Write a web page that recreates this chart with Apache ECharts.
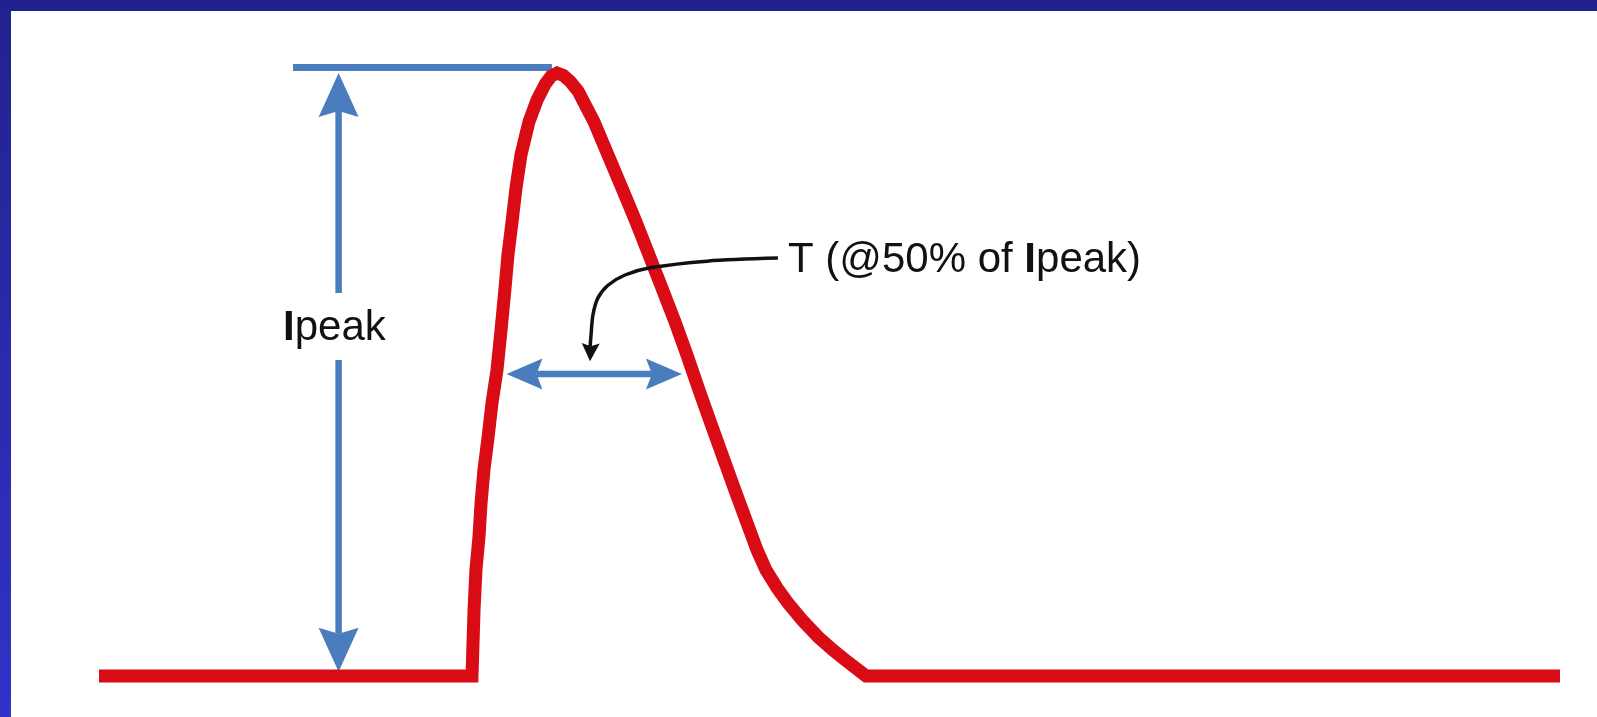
<!DOCTYPE html>
<html><head><meta charset="utf-8">
<script src="https://cdn.jsdelivr.net/npm/echarts@6/dist/echarts.min.js"></script>
<style>html,body{margin:0;padding:0;background:#fff;overflow:hidden}#c{width:1597px;height:717px}</style>
</head><body><div id="c"></div>
<script>
// ---- data (time in arbitrary units, current as fraction of Ipeak) ----
const pulseTime = [0, 25.53, 25.67, 25.80, 26.01, 26.15, 26.35, 26.63, 26.90, 27.24, 27.52, 27.79, 27.99, 28.27, 28.54, 28.88, 29.43, 29.98, 30.55, 30.95, 31.35, 31.78, 32.25, 32.79, 33.88, 34.84, 35.80, 36.76, 37.65, 38.54, 39.43, 40.25, 41.07, 41.89, 42.71, 43.53, 44.35, 45.04, 45.65, 46.41, 47.16, 48.12, 49.21, 50.24, 51.06, 52.50, 100];
const pulseCurrent = [0, 0, 0.109, 0.176, 0.231, 0.287, 0.342, 0.396, 0.453, 0.507, 0.574, 0.643, 0.698, 0.753, 0.809, 0.864, 0.919, 0.955, 0.982, 0.995, 1.0, 0.996, 0.986, 0.970, 0.919, 0.864, 0.809, 0.753, 0.698, 0.643, 0.587, 0.532, 0.474, 0.418, 0.363, 0.308, 0.254, 0.209, 0.176, 0.146, 0.121, 0.093, 0.065, 0.043, 0.027, 0, 0];

const peakMarkerTime = [13.28, 31.0];
const peakMarkerLevel = 1.009;

const ipeakArrowTime = 16.40;
const ipeakArrowUp = [0.635, 1.0];     // from gap to peak
const ipeakArrowDown = [0.524, 0.007]; // from gap to baseline

const widthArrowLevel = 0.501;
const widthArrowTime = [27.89, 39.90];

const leaderTime = [46.47, 41.62, 37.71, 36.00, 34.84, 34.15, 33.81, 33.68, 33.61, 33.61];
const leaderLevel = [0.693, 0.688, 0.677, 0.665, 0.648, 0.627, 0.599, 0.566, 0.544, 0.522];

const ipeakLabel = ['I', 'peak'];
const widthLabel = ['T (@50% of ', 'I', 'peak)'];

// ---- styles ----
const RED = '#d90c15';
const BLUE = '#4a7dbd';
const INK = '#111111';

function headParts(tip, from, L, W, notch) {
  const dx = tip[0] - from[0], dy = tip[1] - from[1];
  const len = Math.hypot(dx, dy) || 1;
  const ux = dx / len, uy = dy / len, nx = -uy, ny = ux;
  const bx = tip[0] - ux * L, by = tip[1] - uy * L;
  const jx = tip[0] - ux * (L - notch), jy = tip[1] - uy * (L - notch);
  return {
    join: [jx, jy],
    poly: [[tip[0], tip[1]], [bx + nx * W, by + ny * W], [jx, jy], [bx - nx * W, by - ny * W]]
  };
}

const chart = echarts.init(document.getElementById('c'), null, {renderer: 'canvas'});

const pulseData = pulseTime.map((t, k) => [t, pulseCurrent[k]]);
const leaderData = leaderTime.map((t, k) => [t, leaderLevel[k]]);

const option = {
  animation: false,
  backgroundColor: '#ffffff',
  grid: {left: 99, right: 37, top: 73, bottom: 41},
  xAxis: {type: 'value', min: 0, max: 100, show: false},
  yAxis: {type: 'value', min: 0, max: 1, show: false},
  graphic: [
    {type: 'rect', left: 0, top: 0, shape: {width: 1597, height: 11}, style: {fill: '#22228e'}, z: 100},
    {type: 'rect', left: 0, top: 0, shape: {width: 11, height: 717},
      style: {fill: new echarts.graphic.LinearGradient(0, 0, 0, 1, [{offset: 0, color: '#22228e'}, {offset: 1, color: '#3232c9'}])}, z: 100},
    {type: 'text', left: 283, top: 307, z: 50,
      style: {text: '{b|' + ipeakLabel[0] + '}{n|' + ipeakLabel[1] + '}',
        rich: {b: {fontFamily: 'Liberation Sans', fontWeight: 'bold', fontSize: 42, fill: INK},
               n: {fontFamily: 'Liberation Sans', fontSize: 42, fill: INK}}}},
    {type: 'text', left: 788, top: 239, z: 50,
      style: {text: widthLabel[0] + '{b|' + widthLabel[1] + '}' + widthLabel[2],
        fontFamily: 'Liberation Sans', fontSize: 42, fill: INK,
        rich: {b: {fontFamily: 'Liberation Sans', fontWeight: 'bold', fontSize: 42, fill: INK}}}}
  ],
  series: [
    {
      type: 'line', name: 'peakMarker', z: 2, clip: false, silent: true,
      data: peakMarkerTime.map(t => [t, peakMarkerLevel]),
      showSymbol: false, symbol: 'none',
      lineStyle: {color: BLUE, width: 7, cap: 'butt'}
    },
    {
      type: 'custom', name: 'ipeakArrows', z: 3, clip: false, silent: true,
      data: [[ipeakArrowTime, ipeakArrowUp[0], ipeakArrowTime, ipeakArrowUp[1]],
             [ipeakArrowTime, ipeakArrowDown[0], ipeakArrowTime, ipeakArrowDown[1]]],
      renderItem: function (params, api) {
        const p0 = api.coord([api.value(0), api.value(1)]);
        const p1 = api.coord([api.value(2), api.value(3)]);
        const h = headParts(p1, p0, 44, 20, 6);
        return {type: 'group', children: [
          {type: 'line', shape: {x1: p0[0], y1: p0[1], x2: h.join[0], y2: h.join[1]}, style: {stroke: BLUE, lineWidth: 6.5}},
          {type: 'polygon', shape: {points: h.poly}, style: {fill: BLUE}}
        ]};
      }
    },
    {
      type: 'custom', name: 'widthArrow', z: 3, clip: false, silent: true,
      data: [[widthArrowTime[0], widthArrowLevel, widthArrowTime[1], widthArrowLevel]],
      renderItem: function (params, api) {
        const a = api.coord([api.value(0), api.value(1)]);
        const b = api.coord([api.value(2), api.value(3)]);
        const ha = headParts(a, b, 36, 15.5, 6);
        const hb = headParts(b, a, 36, 15.5, 6);
        return {type: 'group', children: [
          {type: 'line', shape: {x1: ha.join[0], y1: ha.join[1], x2: hb.join[0], y2: hb.join[1]}, style: {stroke: BLUE, lineWidth: 6.5}},
          {type: 'polygon', shape: {points: ha.poly}, style: {fill: BLUE}},
          {type: 'polygon', shape: {points: hb.poly}, style: {fill: BLUE}}
        ]};
      }
    },
    {
      type: 'line', name: 'pulse', z: 5, clip: false, silent: true,
      data: pulseData, showSymbol: false, symbol: 'none', smooth: false,
      lineStyle: {color: RED, width: 13, join: 'miter', cap: 'butt', miterLimit: 10}
    },
    {
      type: 'custom', name: 'leader', z: 6, clip: false, silent: true,
      data: [0],
      renderItem: function (params, api) {
        const pts = leaderData.map(d => api.coord(d));
        const n = pts.length;
        const tip = pts[n - 1];
        const h = headParts(tip, pts[n - 3], 18, 9, 3);
        const line = pts.slice(0, n - 1).concat([h.join]);
        return {type: 'group', children: [
          {type: 'polyline', shape: {points: line, smooth: 0.3}, style: {stroke: INK, lineWidth: 3.5, fill: null}},
          {type: 'polygon', shape: {points: h.poly}, style: {fill: INK}}
        ]};
      }
    }
  ]
};
chart.setOption(option);
</script></body></html>
